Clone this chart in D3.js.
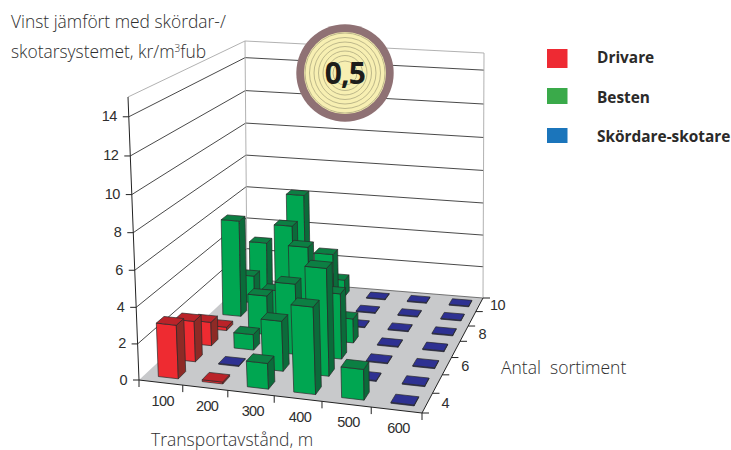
<!DOCTYPE html>
<html>
<head>
<meta charset="utf-8">
<script src="https://cdn.jsdelivr.net/npm/d3@7"></script>
<style>
  html, body { margin: 0; background: #fff; }
  svg { display: block; }
</style>
</head>
<body>
<div id="chart"></div>
<script>
// data, one list per transport distance, front row (4 sortiment) first
const transport = ["100", "200", "300", "400", "500", "600"];
const sortiment = ["4", "5", "6", "7", "8", "9", "10"];
const sortimentTicks = ["4", "6", "8", "10"];
const valueTicks = [0, 2, 4, 6, 8, 10, 12, 14];

const values100 = [2.97, 2.3, 1.37, 0.2, 5.78, 1.68, 3.02];
const values200 = [0.1, 0.05, 0.9, 2.3, 1.78, 4.97, 6.19];
const values300 = [1.42, 2.82, 4.05, 5.37, 3.12, 3.43, 1.05];
const values400 = [4.76, 5.99, 3.74, 1.42, 0.05, 0.05, 0.05];
const values500 = [1.68, 0.05, 0.05, 0.05, 0.05, 0.05, 0.05];
const values600 = [0.05, 0.05, 0.05, 0.05, 0.05, 0.05, 0.05];

// who wins each cell: D = Drivare, B = Besten, S = Skördare-skotare
const winners100 = ["D", "D", "D", "D", "B", "B", "B"];
const winners200 = ["D", "S", "B", "B", "B", "B", "B"];
const winners300 = ["B", "B", "B", "B", "B", "B", "B"];
const winners400 = ["B", "B", "B", "B", "S", "S", "S"];
const winners500 = ["B", "S", "S", "S", "S", "S", "S"];
const winners600 = ["S", "S", "S", "S", "S", "S", "S"];

const legendNames = ["Drivare", "Besten", "Skördare-skotare"];
const legendColors = ["#ee2a33", "#3aaa4a", "#1b75bb"];

const allValues = [values100, values200, values300, values400, values500, values600];
const allWinners = [winners100, winners200, winners300, winners400, winners500, winners600];

const faces = {
    D: { front: "#ee2b31", side: "#8e2a26", top: "#ba2329" },
    B: { front: "#00a651", side: "#0b6b3a", top: "#0c7f43" },
    S: { front: "#2e3192", side: "#2e3192", top: "#2e3192" }
};

const width = 731, height = 450;
const textColor = "#2e2e2e";
const sansLight = "'Open Sans', sans-serif";
const tickFont = "'Liberation Sans', sans-serif";

const svg = d3.select("#chart").append("svg")
    .attr("width", width)
    .attr("height", height);

// unit square -> quad, corners in order front left, front right, back right, back left
function homography(q) {
    const [x0, y0] = q[0], [x1, y1] = q[1], [x2, y2] = q[2], [x3, y3] = q[3];
    const dx1 = x1 - x2, dx2 = x3 - x2, sx = x0 - x1 + x2 - x3;
    const dy1 = y1 - y2, dy2 = y3 - y2, sy = y0 - y1 + y2 - y3;
    const den = dx1 * dy2 - dx2 * dy1;
    const g = (sx * dy2 - dx2 * sy) / den, h = (dx1 * sy - sx * dy1) / den;
    const a = x1 - x0 + g * x1, b = x3 - x0 + h * x3;
    const d = y1 - y0 + g * y1, e = y3 - y0 + h * y3;
    return (u, v) => {
        const w = g * u + h * v + 1;
        return [(a * u + b * v + x0) / w, (d * u + e * v + y0) / w];
    };
}

const floor = homography([[139, 380], [422, 413], [483, 298], [247, 279]]);
const ceiling = homography([[128, 97], [424, 123], [484, 53], [245, 41]]);

// scales in the 3d box
const xScale = d3.scaleBand().domain(transport).range([0, 1]).paddingInner(0.54).paddingOuter(0.27).align(0.6);
const zScale = d3.scaleBand().domain(sortiment).range([0, 1]).paddingInner(0.58).paddingOuter(0.29);
const yScale = d3.scaleLinear().domain([0, 15]).range([0, 1]);

function project(u, v, value) {
    const a = floor(u, v), b = ceiling(u, v), t0 = yScale(value);
    // the height steps grow a little towards the top in the picture
    const t = 0.95 * t0 / (1 - 0.05 * t0);
    return [a[0] + (b[0] - a[0]) * t, a[1] + (b[1] - a[1]) * t];
}
const line = d3.line();

// floor and walls
svg.append("path")
    .attr("d", line([project(0, 0, 0), project(1, 0, 0), project(1, 1, 0), project(0, 1, 0)]) + "Z")
    .attr("fill", "#c8c9cb");

valueTicks.forEach(t => {
    svg.append("path")
        .attr("d", line(t === 0
            ? [project(0, 1, t), project(1, 1, t)]
            : [project(0, 0, t), project(0, 1, t), project(1, 1, t)]))
        .attr("fill", "none")
        .attr("stroke", t === 0 ? "#555" : "#1a1a1a")
        .attr("stroke-width", 0.8);
});

svg.append("path")
    .attr("d", line([project(0, 0, 15), project(0, 1, 15), project(1, 1, 15), project(1, 1, 0)]))
    .attr("fill", "none").attr("stroke", "#a8a8a8").attr("stroke-width", 0.9);
svg.append("path")
    .attr("d", line([project(0, 1, 15), project(0, 1, 0)]))
    .attr("fill", "none").attr("stroke", "#a8a8a8").attr("stroke-width", 0.9);

// axis lines
svg.append("path")
    .attr("d", line([project(0, 0, 15), project(0, 0, 0), project(1, 0, 0), project(1, 1, 0)]))
    .attr("fill", "none").attr("stroke", "#222").attr("stroke-width", 1);

// value axis
valueTicks.forEach(t => {
    const p = project(0, 0, t);
    svg.append("line")
        .attr("x1", p[0] - 6).attr("x2", p[0])
        .attr("y1", p[1]).attr("y2", p[1])
        .attr("stroke", "#222");
    svg.append("text")
        .attr("x", p[0] - 12).attr("y", p[1] + 4.5)
        .attr("text-anchor", "end")
        .attr("font-family", tickFont)
        .attr("font-size", 14.5)
        .attr("letter-spacing", -0.6)
        .attr("fill", textColor)
        .text(t);
});

// transport axis
transport.forEach((d, i) => {
    const p = project(i / transport.length, 0, 0);
    svg.append("line")
        .attr("x1", p[0]).attr("x2", p[0])
        .attr("y1", p[1]).attr("y2", p[1] + 7)
        .attr("stroke", "#222");
    const c = project((i + 0.5) / transport.length, 0, 0);
    svg.append("text")
        .attr("x", c[0] + 2).attr("y", c[1] + 23)
        .attr("text-anchor", "middle")
        .attr("font-family", tickFont)
        .attr("font-size", 14.5)
        .attr("letter-spacing", -0.6)
        .attr("fill", textColor)
        .text(d);
});
{
    const p = project(1, 0, 0);
    svg.append("line").attr("x1", p[0]).attr("x2", p[0]).attr("y1", p[1]).attr("y2", p[1] + 7).attr("stroke", "#222");
}

// sortiment axis
d3.range(sortiment.length + 1).forEach(i => {
    const p = project(1, i / sortiment.length, 0);
    svg.append("line")
        .attr("x1", p[0]).attr("x2", p[0] + 7)
        .attr("y1", p[1]).attr("y2", p[1])
        .attr("stroke", "#222");
});
sortimentTicks.forEach(d => {
    const c = project(1, zScale(d) + zScale.bandwidth() / 2, 0);
    svg.append("text")
        .attr("x", c[0] + 18).attr("y", c[1] + 5)
        .attr("text-anchor", "middle")
        .attr("font-family", tickFont)
        .attr("font-size", 14.5)
        .attr("letter-spacing", -0.6)
        .attr("fill", textColor)
        .text(d);
});

// bars, back row first and left to right so nearer bars cover the others
const cells = [];
d3.range(sortiment.length - 1, -1, -1).forEach(r => {
    transport.forEach((t, c) => {
        cells.push({ t: t, s: sortiment[r], value: allValues[c][r], who: allWinners[c][r] });
    });
});

const bars = svg.append("g").selectAll("g")
    .data(cells)
    .join("g");

bars.each(function (d) {
    const g = d3.select(this);
    const u0 = xScale(d.t), u1 = u0 + xScale.bandwidth();
    const v0 = zScale(d.s), v1 = v0 + zScale.bandwidth();
    const col = faces[d.who];
    const quad = (pts, fill) => g.append("path")
        .attr("d", line(pts) + "Z")
        .attr("fill", fill)
        .attr("stroke", "#2a2a2a")
        .attr("stroke-width", 0.7)
        .attr("stroke-linejoin", "round");

    quad([project(u0, v0, 0), project(u1, v0, 0), project(u1, v0, d.value), project(u0, v0, d.value)], col.front);
    quad([project(u1, v0, 0), project(u1, v1, 0), project(u1, v1, d.value), project(u1, v0, d.value)], col.side);
    quad([project(u0, v0, d.value), project(u1, v0, d.value), project(u1, v1, d.value), project(u0, v1, d.value)], col.top);
});

// axis titles
svg.append("text")
    .attr("x", 151).attr("y", 446)
    .attr("font-family", sansLight).attr("font-weight", 300).attr("font-size", 17.5)
    .attr("fill", textColor)
    .text("Transportavstånd, m");
svg.append("text")
    .attr("x", 501).attr("y", 374)
    .attr("font-family", sansLight).attr("font-weight", 300).attr("font-size", 17.5)
    .style("white-space", "pre")
    .attr("fill", textColor)
    .text("Antal  sortiment");

const title = svg.append("g")
    .attr("font-family", sansLight).attr("font-weight", 300).attr("font-size", 17.4)
    .attr("fill", textColor);
title.append("text").attr("x", 11).attr("y", 28).text("Vinst jämfört med skördar-/");
const title2 = title.append("text").attr("x", 11).attr("y", 58);
title2.append("tspan").text("skotarsystemet, kr/m");
title2.append("tspan").attr("dy", -6).attr("font-size", 10).text("3");
title2.append("tspan").attr("dy", 6).text("fub");

// legend
const legendTop = [49, 88, 128], legendBottom = [68, 104, 143];
legendNames.forEach((name, i) => {
    svg.append("rect")
        .attr("x", 547).attr("y", legendTop[i])
        .attr("width", 20.5).attr("height", legendBottom[i] - legendTop[i])
        .attr("fill", legendColors[i]);
    svg.append("text")
        .attr("x", 597).attr("y", 63 + i * 39.5)
        .attr("font-family", sansLight).attr("font-weight", 700).attr("font-size", 15.4)
        .attr("fill", "#2b2a29")
        .text(name);
});

// price badge
const badge = svg.append("g").attr("transform", "translate(345,73)");
badge.append("circle").attr("r", 48.7).attr("fill", "#8f7174");
badge.append("circle").attr("r", 41).attr("fill", "#f7efb2");
[40, 35.5, 31, 26.5, 22, 17.5, 12].forEach(r => {
    badge.append("circle")
        .attr("r", r)
        .attr("fill", "none")
        .attr("stroke", "#a49f78")
        .attr("stroke-width", 0.7);
});
badge.append("text")
    .attr("y", 10.5)
    .attr("text-anchor", "middle")
    .attr("font-family", sansLight).attr("font-weight", 700).attr("font-size", 30)
    .attr("letter-spacing", -0.8)
    .attr("fill", "#1d1d1b")
    .text("0,5");
</script>
</body>
</html>
